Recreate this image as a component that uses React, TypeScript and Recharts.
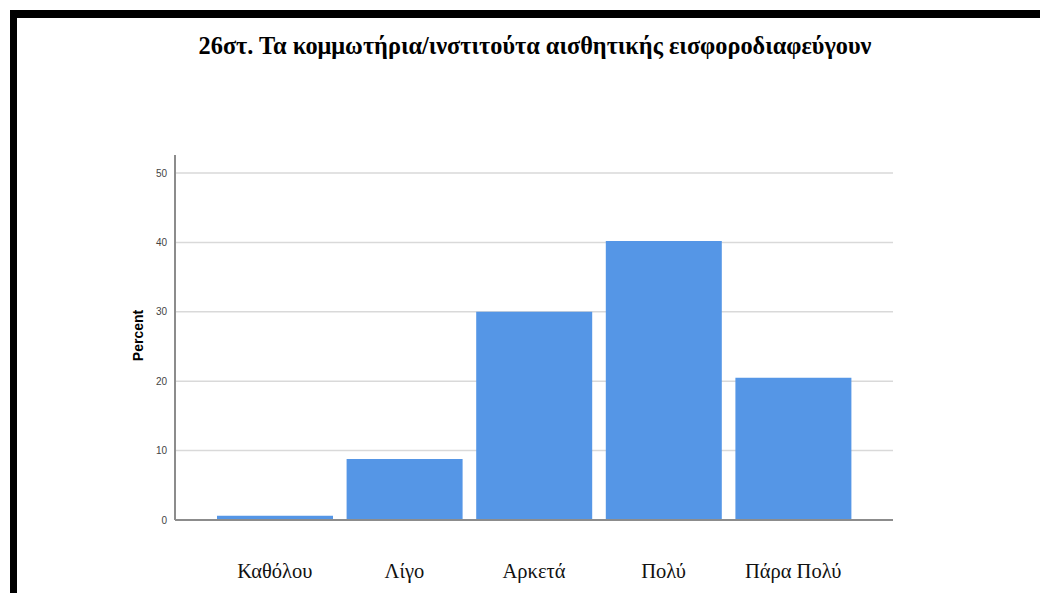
import React from 'react';
import { BarChart, Bar, XAxis, YAxis, CartesianGrid } from 'recharts';

const categories = ['Καθόλου', 'Λίγο', 'Αρκετά', 'Πολύ', 'Πάρα Πολύ'];
const percents = [0.6, 8.8, 30.0, 40.2, 20.5];
const yTicks = [0, 10, 20, 30, 40, 50];

const data = categories.map((name, i) => ({ name, percent: percents[i] }));

const XTick = (props: any) => {
  const { x, y, payload } = props;
  return (
    <text
      x={x}
      y={y + 50}
      textAnchor="middle"
      fill="#111"
      fontSize={20.5}
      fontFamily="'Liberation Serif', 'DejaVu Serif', serif"
    >
      {payload.value}
    </text>
  );
};

const App: React.FC = () => {
  return (
    <div style={{ position: 'absolute', left: 0, top: 0, width: 1040, height: 593, background: '#fff', overflow: 'hidden' }}>
      {/* black frame, top and left */}
      <div style={{ position: 'absolute', left: 10, top: 10, width: 1030, height: 8, background: '#000' }} />
      <div style={{ position: 'absolute', left: 10, top: 10, width: 7, height: 583, background: '#000' }} />
      <div
        style={{
          position: 'absolute',
          left: 0,
          top: 32,
          width: 1070,
          textAlign: 'center',
          fontFamily: "'Liberation Serif', 'DejaVu Serif', serif",
          fontWeight: 'bold',
          fontSize: 24.3,
          color: '#000',
        }}
      >
        26στ. Τα κομμωτήρια/ινστιτούτα αισθητικής εισφοροδιαφεύγουν
      </div>
      <div style={{ position: 'absolute', left: 0, top: 0 }}>
        <BarChart
          width={1040}
          height={593}
          data={data}
          margin={{ top: 155, right: 147, bottom: 13, left: 135 }}
          barCategoryGap={7}
        >
          <CartesianGrid vertical={false} horizontalValues={yTicks} stroke="#d9d9d9" strokeWidth={1.5} />
          <XAxis
            dataKey="name"
            height={60}
            padding={{ left: 35, right: 35 }}
            axisLine={{ stroke: '#8c8c8c', strokeWidth: 2 }}
            tickLine={false}
            tick={<XTick />}
            interval={0}
          />
          <YAxis
            width={40}
            domain={[0, 52.6]}
            ticks={yTicks}
            axisLine={{ stroke: '#8c8c8c', strokeWidth: 2 }}
            tickLine={false}
            tick={{ fill: '#444', fontSize: 10, fontFamily: 'Arial, Liberation Sans, sans-serif' }}
            label={{
              value: 'Percent',
              angle: -90,
              position: 'insideLeft',
              offset: 0,
              dx: 3,
              dy: -2,
              style: { fill: '#000', fontSize: 14, fontWeight: 'bold', fontFamily: 'Liberation Sans, Arial, sans-serif', textAnchor: 'middle' },
            }}
          />
          <Bar dataKey="percent" fill="#5596e6" isAnimationActive={false} />
        </BarChart>
      </div>
    </div>
  );
};

export default App;
